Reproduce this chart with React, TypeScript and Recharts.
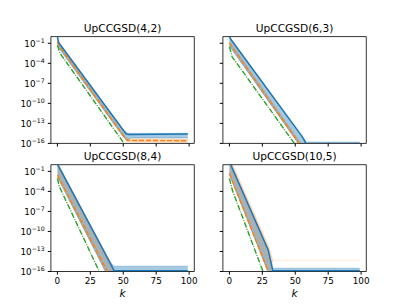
import React from "react";
import { ComposedChart, Line, Area, XAxis, YAxis, ReferenceArea } from "recharts";

const BLUE = "#1f77b4";
const ORANGE = "#ff7f0e";
const GREEN = "#2ca02c";
const FONT = "DejaVu Sans, sans-serif";

const K_TICKS = [0, 25, 50, 75, 100];
const Y_TICKS = [1e-1, 1e-4, 1e-7, 1e-10, 1e-13, 1e-16];
const TITLES = ["UpCCGSD(4,2)", "UpCCGSD(6,3)", "UpCCGSD(8,4)", "UpCCGSD(10,5)"];

// lines: [k, log10 value]; bands: [k, log10 low, log10 high]
const blue42 = [[0, 0.0], [1, -0.9], [52, -14.55], [54, -14.65], [99, -14.6]];
const blueBand42 = [[0, -0.95, 0.1], [1, -1.7, -0.8], [50, -15.0, -13.95], [53, -15.5, -14.45], [56, -15.2, -14.5], [99, -15.2, -14.5]];
const orange42 = [[0, -0.75], [1, -1.3], [50, -14.8], [53, -15.55], [99, -15.6]];
const orangeBand42 = [[0, -1.05, -0.45], [1, -1.6, -1.0], [50, -15.1, -14.5], [53, -15.8, -15.3], [99, -15.85, -15.35]];
const green42 = [[0, -1.3], [2, -2.5], [50.6, -16]];

const blue63 = [[0, 0.0], [1, -0.4], [55, -14.9], [56.5, -15.4], [58, -16]];
const blueBand63 = [[0, -1.25, 0.1], [1, -1.7, -0.3], [53, -16.2, -14.35], [55, -16.5, -14.85], [57, -16.5, -15.4], [58.5, -16.5, -15.8], [99, -16.5, -15.8]];
const orange63 = [[0, -0.95], [53.1, -16]];
const orangeBand63 = [[0, -1.3, -0.6], [53.1, -16.35, -15.65], [54, -16.5, -16.0]];
const green63 = [[0, -1.5], [2, -3.0], [49.3, -16]];

const blue84 = [[0, 0.1], [40, -14.7], [43, -15.9], [99, -15.9]];
const blueBand84 = [[0, -1.85, 0.2], [37, -16.2, -13.5], [40, -16.5, -14.6], [43, -16.5, -15.2], [99, -16.5, -15.2]];
const orange84 = [[0, -1.55], [37.9, -16]];
const orangeBand84 = [[0, -1.85, 0.35], [37, -16.3, -13.35], [40, -16.5, -14.4], [43, -16.5, -15.9], [99, -16.5, -15.9]];
const green84 = [[0, -2.05], [1.5, -3.3], [31.8, -16]];

const blue105 = [[0, 0.45], [29.5, -12.8], [32.9, -15.9], [99, -15.9]];
const blueBand105 = [[0, -1.5, 0.5], [29.5, -16.2, -12.75], [33, -16.5, -15.5], [99, -16.5, -15.5]];
const orange105 = [[0, -1.3], [29.5, -16]];
const orangeBand105 = [[0, -1.5, 1.2], [29.5, -16.2, -12.0], [31, -16.5, -12.8], [33, -14.31, -14.3], [99, -14.31, -14.3]];
const green105 = [[0, -2.05], [2.2, -3.8], [25.5, -16]];

const toLine = (pts: number[][]) => pts.map(([k, e]) => ({ k, v: Math.pow(10, e) }));
const toBand = (pts: number[][]) => pts.map(([k, lo, hi]) => ({ k, r: [Math.pow(10, lo), Math.pow(10, hi)] }));

const PANELS = [
  { title: TITLES[0], blue: blue42, blueBand: blueBand42, orange: orange42, orangeBand: orangeBand42, green: green42, left: 50.9, right: 194.3, top: 36.6, bottom: 143.4, xLabels: false, yLabels: true },
  { title: TITLES[1], blue: blue63, blueBand: blueBand63, orange: orange63, orangeBand: orangeBand63, green: green63, left: 222.9, right: 366.3, top: 36.6, bottom: 143.4, xLabels: false, yLabels: false },
  { title: TITLES[2], blue: blue84, blueBand: blueBand84, orange: orange84, orangeBand: orangeBand84, green: green84, left: 50.9, right: 194.3, top: 164.7, bottom: 271.5, xLabels: true, yLabels: true },
  { title: TITLES[3], blue: blue105, blueBand: blueBand105, orange: orange105, orangeBand: orangeBand105, green: green105, left: 222.9, right: 366.3, top: 164.7, bottom: 271.5, xLabels: true, yLabels: false },
];

const W = 407;
const H = 305;
const YW = 45;
const XH = 20;

function YTick(props: any) {
  const { x, y, payload, show } = props;
  if (!show) return <g />;
  const e = Math.round(Math.log10(payload.value));
  return (
    <text x={x} y={y + 3.3} textAnchor="end" fontSize={8.8} fill="#000" fontFamily={FONT}>
      10
      <tspan dy={-3.8} fontSize={6.2}>{"\u2212" + Math.abs(e)}</tspan>
    </text>
  );
}

function XTick(props: any) {
  const { x, y, payload, show } = props;
  if (!show) return <g />;
  return (
    <text x={x} y={y} dy="0.71em" textAnchor="middle" fontSize={8.8} fill="#000" fontFamily={FONT}>
      {payload.value}
    </text>
  );
}

function Panel({ p }: { p: (typeof PANELS)[number] }) {
  return (
    <div style={{ position: "absolute", left: 0, top: 0 }}>
      <ComposedChart
        width={W}
        height={H}
        margin={{ left: p.left - YW, right: W - p.right, top: p.top, bottom: H - p.bottom - XH }}
      >
        <XAxis
          type="number"
          dataKey="k"
          domain={[-4.95, 103.95]}
          allowDataOverflow
          ticks={K_TICKS}
          interval={0}
          height={XH}
          axisLine={false}
          tickSize={3.1}
          tickMargin={3.1}
          stroke="#000"
          tick={<XTick show={p.xLabels} />}
        />
        <YAxis
          type="number"
          scale="log"
          domain={[1e-16, 1]}
          allowDataOverflow
          ticks={Y_TICKS}
          interval={0}
          width={YW}
          axisLine={false}
          tickSize={3.1}
          tickMargin={3.1}
          stroke="#000"
          tick={<YTick show={p.yLabels} />}
        />
        <Area data={toBand(p.orangeBand)} dataKey="r" type="linear" fill={ORANGE} fillOpacity={0.3} stroke={ORANGE} strokeOpacity={0.15} strokeWidth={0.6} isAnimationActive={false} dot={false} activeDot={false} />
        <Area data={toBand(p.blueBand)} dataKey="r" type="linear" fill={BLUE} fillOpacity={0.4} stroke={BLUE} strokeOpacity={0.4} strokeWidth={0.8} isAnimationActive={false} dot={false} activeDot={false} />
        <Line data={toLine(p.green)} dataKey="v" type="linear" stroke={GREEN} strokeWidth={1.4} strokeDasharray="5.6 1.4 0.9 1.4" dot={false} activeDot={false} isAnimationActive={false} />
        <Line data={toLine(p.orange)} dataKey="v" type="linear" stroke={ORANGE} strokeWidth={1.4} strokeDasharray="4.9 2.1" dot={false} activeDot={false} isAnimationActive={false} />
        <Line data={toLine(p.blue)} dataKey="v" type="linear" stroke={BLUE} strokeWidth={1.5} dot={false} activeDot={false} isAnimationActive={false} />
        <ReferenceArea x1={-4.95} x2={103.95} y1={1e-16} y2={1} fill="none" stroke="#000" strokeWidth={0.8} ifOverflow="visible" />
      </ComposedChart>
    </div>
  );
}

export default function App() {
  return (
    <div style={{ position: "absolute", left: 0, top: 0, width: W, height: H, background: "#fff", fontFamily: FONT }}>
      {PANELS.map((p) => (
        <Panel key={p.title} p={p} />
      ))}
      <svg width={W} height={H} style={{ position: "absolute", left: 0, top: 0, pointerEvents: "none" }}>
        {PANELS.map((p) => (
          <text key={p.title} x={(p.left + p.right) / 2} y={p.top - 4.8} textAnchor="middle" fontSize={10.6} fill="#000" fontFamily={FONT}>
            {p.title}
          </text>
        ))}
        {PANELS.filter((p) => p.xLabels).map((p) => (
          <text key={"k" + p.title} x={(p.left + p.right) / 2} y={297} textAnchor="middle" fontSize={10.6} fontStyle="italic" fill="#000" fontFamily={FONT}>
            k
          </text>
        ))}
      </svg>
    </div>
  );
}
